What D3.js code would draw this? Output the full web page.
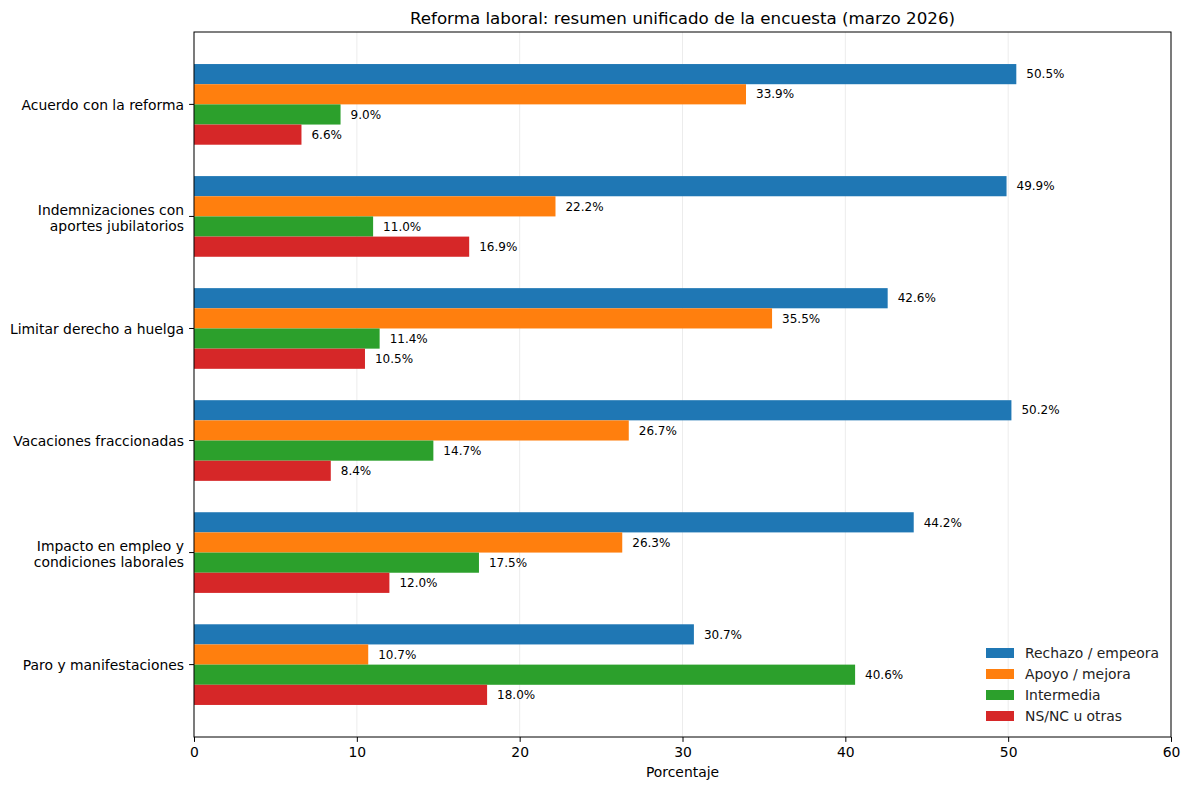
<!DOCTYPE html>
<html>
<head>
<meta charset="utf-8">
<script src="https://cdn.jsdelivr.net/npm/d3@7"></script>
<style>
  body { margin: 0; background: #fff; }
  svg { font-family: "DejaVu Sans", sans-serif; }
</style>
</head>
<body>
<svg id="chart" width="1189" height="790"></svg>
<script>
const categories = [
  ["Acuerdo con la reforma"],
  ["Indemnizaciones con", "aportes jubilatorios"],
  ["Limitar derecho a huelga"],
  ["Vacaciones fraccionadas"],
  ["Impacto en empleo y", "condiciones laborales"],
  ["Paro y manifestaciones"]
];
const seriesNames = ["Rechazo / empeora", "Apoyo / mejora", "Intermedia", "NS/NC u otras"];
const rechazo = [50.5, 49.9, 42.6, 50.2, 44.2, 30.7];
const apoyo = [33.9, 22.2, 35.5, 26.7, 26.3, 10.7];
const intermedia = [9.0, 11.0, 11.4, 14.7, 17.5, 40.6];
const nsnc = [6.6, 16.9, 10.5, 8.4, 12.0, 18.0];
const xTicks = [0, 10, 20, 30, 40, 50, 60];
const colors = ["#1f77b4", "#ff7f0e", "#2ca02c", "#d62728"];

const series = [rechazo, apoyo, intermedia, nsnc];

const svg = d3.select("#chart");
const plotL = 194, plotR = 1171, plotT = 32, plotB = 737;
const barH = 0.18;

const x = d3.scaleLinear().domain([0, 60]).range([plotL, plotR]);
// matplotlib style: data spans -0.36..5.36, plus 5% margins
const span = (categories.length - 1) + 4 * barH;
const pad = span * 0.05;
const y = d3.scaleLinear()
  .domain([-2 * barH - pad, categories.length - 1 + 2 * barH + pad])
  .range([plotT, plotB]);

// grid
svg.append("g").selectAll("line")
  .data(xTicks)
  .join("line")
  .attr("x1", d => x(d)).attr("x2", d => x(d))
  .attr("y1", plotT).attr("y2", plotB)
  .attr("stroke", "#b0b0b0")
  .attr("stroke-opacity", 0.3)
  .attr("stroke-width", 0.8);

// bars
series.forEach((vals, s) => {
  const off = (s - 1.5) * barH;
  const g = svg.append("g");
  g.selectAll("rect")
    .data(vals)
    .join("rect")
    .attr("x", x(0))
    .attr("y", (d, i) => y(i + off - barH / 2))
    .attr("width", d => x(d) - x(0))
    .attr("height", y(barH) - y(0))
    .attr("fill", colors[s]);
  g.selectAll("text")
    .data(vals)
    .join("text")
    .attr("x", d => x(d) + 10)
    .attr("y", (d, i) => y(i + off))
    .attr("dy", "0.35em")
    .attr("font-size", "12px")
    .attr("fill", "#000")
    .text(d => d.toFixed(1) + "%");
});

// frame
svg.append("rect")
  .attr("x", plotL).attr("y", plotT)
  .attr("width", plotR - plotL).attr("height", plotB - plotT)
  .attr("fill", "none").attr("stroke", "#000").attr("stroke-width", 1);

// x axis
const xAxis = svg.append("g")
  .attr("transform", `translate(0,${plotB})`)
  .call(d3.axisBottom(x).tickValues(xTicks).tickSize(4.9).tickPadding(4.9).tickFormat(d3.format("d")));
xAxis.select(".domain").remove();
xAxis.selectAll("text").attr("font-size", "13.9px").attr("fill", "#000").attr("font-family", "DejaVu Sans");

// y ticks and labels
const yAxis = svg.append("g");
categories.forEach((lines, i) => {
  yAxis.append("line")
    .attr("x1", plotL - 4.9).attr("x2", plotL)
    .attr("y1", y(i)).attr("y2", y(i))
    .attr("stroke", "#000");
  const t = yAxis.append("text")
    .attr("x", plotL - 10)
    .attr("y", y(i))
    .attr("text-anchor", "end")
    .attr("font-size", "13.9px")
    .attr("fill", "#000");
  const lh = 16;
  const shift = lines.length > 1 ? 2 : 1;
  lines.forEach((ln, k) => {
    t.append("tspan")
      .attr("x", plotL - 10)
      .attr("y", y(i) + shift + (k - (lines.length - 1) / 2) * lh)
      .attr("dy", "0.35em")
      .text(ln);
  });
});

// title + axis label
svg.append("text")
  .attr("x", (plotL + plotR) / 2).attr("y", 24)
  .attr("text-anchor", "middle")
  .attr("font-size", "16.7px")
  .text("Reforma laboral: resumen unificado de la encuesta (marzo 2026)");
svg.append("text")
  .attr("x", (plotL + plotR) / 2).attr("y", 777)
  .attr("text-anchor", "middle")
  .attr("font-size", "13.9px")
  .text("Porcentaje");

// legend
const legend = svg.append("g").attr("transform", "translate(986,653)");
seriesNames.forEach((name, s) => {
  const row = legend.append("g").attr("transform", `translate(0,${s * 21})`);
  row.append("rect")
    .attr("x", 0).attr("y", -5)
    .attr("width", 28).attr("height", 10)
    .attr("fill", colors[s]);
  row.append("text")
    .attr("x", 39).attr("y", 0)
    .attr("dy", "0.35em")
    .attr("font-size", "13.9px")
    .attr("fill", "#222")
    .text(name);
});
</script>
</body>
</html>
